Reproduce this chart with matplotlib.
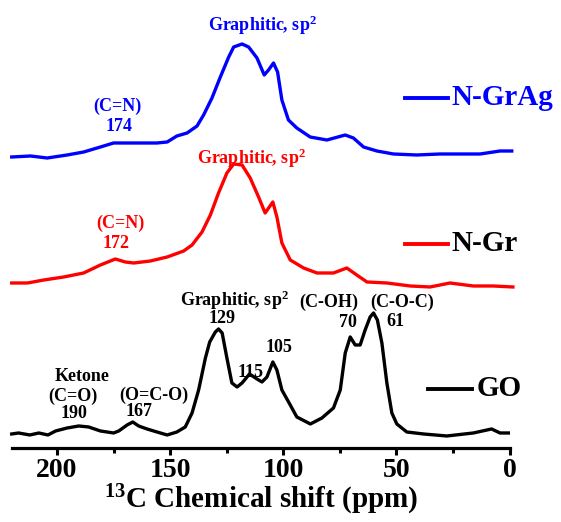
import matplotlib
matplotlib.use("Agg")
import matplotlib.pyplot as plt

# ---- data: 13C NMR spectra (ppm, intensity above own baseline, a.u.) ------
go_ppm = [220, 217, 212, 208, 204, 200.6, 195.5, 190.4, 186, 180.8, 175, 172.7,
          169, 166.5, 163.9, 160.2, 155.8, 151.3, 147, 143.3, 140.3, 137.4,
          134.4, 132.5, 130, 128.6, 127, 124.9, 122.7, 120.4, 118.2, 114.9,
          111.6, 109.4, 107.2, 104.6, 102.8, 100.6, 96.9, 94, 88, 82.9, 77.8,
          74.8, 72.6, 70.4, 68.2, 66, 63.8, 61.6, 60.1, 58.4, 56.4, 54.2, 52,
          49.8, 45.4, 38, 27.7, 16, 7.9, 4.2, 0.5]
go_int = [0, 1, -1, 1, -1, 3, 6, 8, 7, 3, 1, 3,
          9, 12, 8, 5, 2, -1, 2, 7, 21, 44,
          76, 92, 102, 105, 101, 76, 51, 47, 51, 60,
          55, 52, 57, 72, 64, 44, 29, 17, 10, 16, 26,
          44, 81, 97, 89, 89, 104, 117, 121, 114, 91, 51, 21,
          10, 2, 0, -2, 1, 5, 1, 1]

ngr_ppm = [220, 213, 205.8, 197, 188.2, 180.8, 174.2, 169.8, 166.1, 158.7,
           151.3, 144, 140.3, 135.9, 132.2, 128.6, 124.9, 121.9, 118.2, 114.6,
           110.9, 108, 104.6, 102.8, 100.6, 96.9, 91, 85.1, 77.8, 71.9, 67.5,
           63, 54.2, 43.9, 35.1, 26.3, 16, 7.2, -1.5]
ngr_int = [4, 4, 7, 10, 14, 22, 28, 25, 24, 26,
           30, 36, 42, 55, 72, 94, 114, 123, 122, 109,
           90, 74, 85, 70, 44, 27, 19, 14, 14, 19, 12,
           5, 4, 1, 0, 4, 1, 1, 0]

ngrag_ppm = [220, 211.7, 204.3, 195.5, 188.2, 180.8, 175, 169, 163.1, 155.8,
             151.3, 147, 142.5, 138.1, 135.2, 131.5, 127.8, 124.1, 121.9, 118.2,
             115.3, 111.6, 108.4, 106.5, 104.3, 102.5, 100.6, 97.7, 94, 88.1,
             80.7, 72.6, 69, 64.5, 58.6, 51.3, 41, 30.7, 21.9, 13, 4.2, -1]
ngrag_int = [-2, -1, -3, 0, 3, 8, 12, 12, 12, 12,
             13, 19, 22, 29, 40, 57, 78, 98, 108, 111,
             108, 97, 80, 85, 92, 83, 55, 35, 27, 18,
             15, 20, 17, 8, 4, 1, 0, 1, 1, 1, 4, 4]

names = ["GO", "N-Gr", "N-GrAg"]
offsets = [14, 161, 293]          # vertical stacking of the traces
colors = ["black", "red", "blue"]
legend_text_colors = ["black", "black", "blue"]

plt.rcParams["font.family"] = "Liberation Serif"
plt.rcParams["font.weight"] = "bold"
plt.rcParams["axes.labelweight"] = "bold"
plt.rcParams["mathtext.fontset"] = "custom"
plt.rcParams["mathtext.rm"] = "Liberation Serif:bold"
plt.rcParams["mathtext.bf"] = "Liberation Serif:bold"
plt.rcParams["mathtext.default"] = "rm"

fig = plt.figure(figsize=(5.61, 5.22), dpi=100)
ax = fig.add_axes([0.0209, 0.1418, 0.8873, 0.8582])

series = [(go_ppm, go_int), (ngr_ppm, ngr_int), (ngrag_ppm, ngrag_int)]
for (xs, ys), off, c in zip(series, offsets, colors):
    ax.plot(xs, [y + off for y in ys], color=c, lw=2.4, clip_on=False,
            solid_joinstyle="round")

# legend-like labels drawn next to each trace (GO, N-Gr, N-GrAg)
leg = [(35.8, 16.7, 14.5, 59), (46.1, 27.0, 25.5, 204), (46.1, 27.0, 25.5, 350)]
for (x0, x1, xt, yl), name, c, tc in zip(leg, names, colors, legend_text_colors):
    ax.plot([x0, x1], [yl, yl], color=c, lw=2.8, clip_on=False)
    ax.text(xt, yl, name, color=tc, fontsize=21, ha="left", va="center",
            clip_on=False)

# peak annotations
fs = 13
go_labels = [("Ketone", 188.9, 71), ("(C=O)", 192.9, 52), ("190", 192.3, 34),
             ("(O=C-O)", 157.3, 53), ("167", 163.9, 36),
             ("Graphitic, sp$^2$", 121.5, 148), ("129", 127.0, 129),
             ("115", 114.3, 75), ("105", 102.0, 100), ("(C-OH)", 80.0, 146),
             ("(C-O-C)", 47.6, 146), ("70", 71.2, 125), ("61", 50.6, 126)]
for s, x, y in go_labels:
    ax.text(x, y, s, color="black", fontsize=fs, ha="center", va="center")
for s, x, y in [("(C=N)", 171.9, 225), ("172", 173.7, 204),
                ("Graphitic, sp$^2$", 114.1, 290)]:
    ax.text(x, y, s, color="red", fontsize=fs, ha="center", va="center")
for s, x, y in [("(C=N)", 173.4, 342), ("174", 172.7, 321),
                ("Graphitic, sp$^2$", 109.0, 423)]:
    ax.text(x, y, s, color="blue", fontsize=fs, ha="center", va="center")

ax.set_xlim(220, 0)
ax.set_ylim(0, 448)
ax.set_xticks([200, 150, 100, 50, 0])
ax.set_xticks([175, 125, 75, 25], minor=True)
ax.set_yticks([])
for side in ["left", "top", "right"]:
    ax.spines[side].set_visible(False)
ax.spines["bottom"].set_linewidth(2.3)
ax.tick_params(axis="x", which="major", direction="out", length=5, width=2.2,
               labelsize=20, pad=2)
ax.tick_params(axis="x", which="minor", direction="out", length=3.5, width=2.2)
ax.set_xlabel("$^{13}$C Chemical shift (ppm)", fontsize=21, fontweight="bold",
              labelpad=0)
ax.patch.set_alpha(0)

fig.savefig("out.png", dpi=100)
